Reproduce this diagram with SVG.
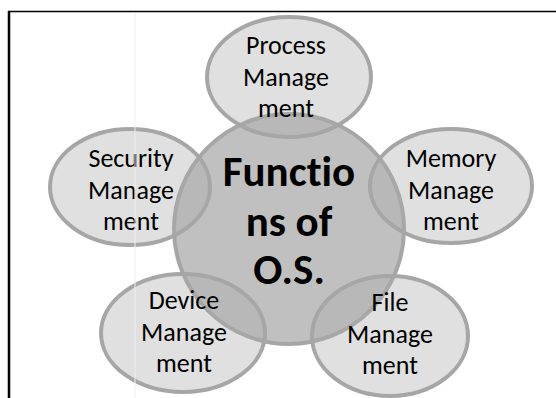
<svg xmlns="http://www.w3.org/2000/svg" width="556" height="398" viewBox="0 0 556 398">
<style>
.outer{fill:#aaaaaa;fill-opacity:0.365;stroke:#a6a6a6;stroke-width:4}
.center{fill:#c0c0c0;stroke:#a6a6a6;stroke-width:4}
text{font-variant-ligatures:none;font-family:Carlito,Lato,"Liberation Sans",sans-serif;fill:#000;text-anchor:middle}
.lbl{font-size:26px}
.big{font-size:43px;font-weight:bold}
.frame{stroke:#000;fill:none}
</style>
<rect width="556" height="398" fill="#fff"/>
<g id="frame">
<line class="frame" x1="8" y1="11.5" x2="556" y2="11.5" stroke-width="1.5"/>
<line class="frame" x1="9" y1="11" x2="9" y2="398" stroke-width="2.5"/>
</g>
<g id="connectors"></g>
<g id="center">
<circle class="center" cx="289" cy="229" r="115"/>
<text class="big" x="289" y="186">Functio</text>
<text class="big" x="289" y="236">ns of</text>
<text class="big" x="289" y="284">O.S.</text>
</g>
<g id="process">
<ellipse class="outer" cx="289" cy="77" rx="82" ry="60"/>
<text class="lbl" x="286" y="54">Process</text>
<text class="lbl" x="286" y="85.5">Manage</text>
<text class="lbl" x="286" y="117">ment</text>
</g>
<g id="security">
<ellipse class="outer" cx="130" cy="187" rx="80" ry="58"/>
<text class="lbl" x="131" y="167">Security</text>
<text class="lbl" x="131" y="198.5">Manage</text>
<text class="lbl" x="131" y="230">ment</text>
</g>
<g id="memory">
<ellipse class="outer" cx="451" cy="186" rx="81" ry="57"/>
<text class="lbl" x="451" y="167">Memory</text>
<text class="lbl" x="451" y="198.5">Manage</text>
<text class="lbl" x="451" y="230">ment</text>
</g>
<g id="device">
<ellipse class="outer" cx="183" cy="333" rx="82" ry="59"/>
<text class="lbl" x="184" y="309">Device</text>
<text class="lbl" x="184" y="340.5">Manage</text>
<text class="lbl" x="184" y="372">ment</text>
</g>
<g id="file">
<ellipse class="outer" cx="390" cy="336" rx="78" ry="60"/>
<text class="lbl" x="390" y="311">File</text>
<text class="lbl" x="390" y="342.5">Manage</text>
<text class="lbl" x="390" y="374">ment</text>
</g>
<line x1="135" y1="13" x2="135" y2="398" stroke="#eeeeee" stroke-width="1"/>
</svg>
